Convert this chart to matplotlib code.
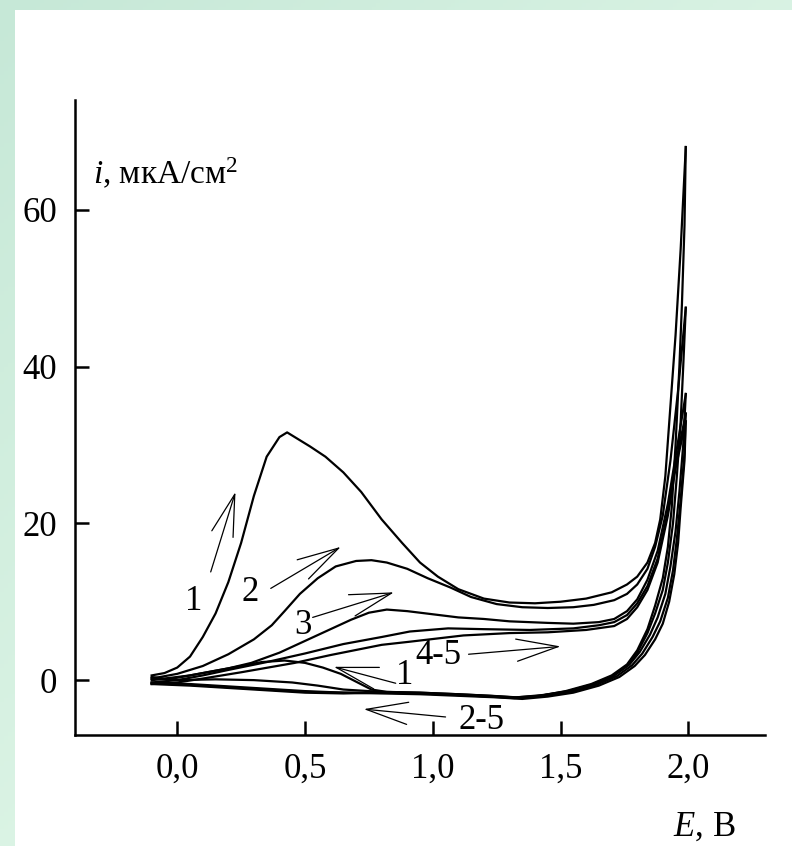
import numpy as np
import matplotlib
matplotlib.use("Agg")
import matplotlib.pyplot as plt
from matplotlib.patches import Rectangle

plt.rcParams['font.family'] = ['Liberation Serif', 'DejaVu Serif']
plt.rcParams['mathtext.fontset'] = 'custom'
plt.rcParams['mathtext.rm'] = 'Liberation Serif'
plt.rcParams['mathtext.it'] = 'Liberation Serif:italic'

# cycle 1
E1_fwd = [-0.10, -0.05, 0.00, 0.05, 0.10, 0.15, 0.20, 0.25, 0.30, 0.35, 0.40, 0.43, 0.47, 0.52,
          0.58, 0.65, 0.72, 0.80, 0.88, 0.95, 1.02, 1.10, 1.20, 1.30, 1.40, 1.50, 1.60, 1.70,
          1.76, 1.80, 1.84, 1.87, 1.89, 1.91, 1.93, 1.95, 1.97, 1.99]
i1_fwd = [0.6, 0.9, 1.6, 3.0, 5.5, 8.5, 12.5, 17.5, 23.5, 28.5, 31.0, 31.6, 30.8, 29.8,
          28.5, 26.5, 24.0, 20.5, 17.5, 15.0, 13.2, 11.6, 10.4, 9.9, 9.8, 10.0, 10.4, 11.2,
          12.2, 13.2, 15.0, 17.5, 20.5, 26.0, 35.0, 44.0, 55.0, 68.0]
E1_rev = [1.99, 1.985, 1.975, 1.965, 1.95, 1.935, 1.92, 1.90, 1.87, 1.84, 1.80, 1.76, 1.70,
          1.62, 1.52, 1.42, 1.32, 1.22, 1.10, 0.95, 0.82, 0.76, 0.70, 0.64, 0.57, 0.50, 0.42,
          0.33, 0.25, 0.15, 0.05, -0.05, -0.10]
i1_rev = [68.0, 58.0, 48.0, 40.0, 30.0, 22.0, 17.0, 13.0, 9.5, 6.5, 3.8, 2.0, 0.6,
          -0.5, -1.4, -2.0, -2.2, -2.0, -1.8, -1.6, -1.5, -1.2, -0.2, 0.8, 1.6, 2.2, 2.5,
          2.3, 1.8, 1.2, 0.6, 0.2, 0.4]

# cycle 2
E2_fwd = [-0.10, -0.05, 0.00, 0.10, 0.20, 0.30, 0.37, 0.42, 0.48, 0.55, 0.62, 0.70, 0.76, 0.82,
          0.90, 0.98, 1.07, 1.15, 1.25, 1.35, 1.45, 1.55, 1.63, 1.71, 1.76, 1.80, 1.84, 1.87,
          1.90, 1.93, 1.96, 1.99]
i2_fwd = [0.2, 0.5, 0.8, 1.8, 3.3, 5.2, 7.0, 8.8, 11.0, 13.0, 14.5, 15.2, 15.3, 15.0,
          14.2, 13.0, 11.8, 10.6, 9.7, 9.3, 9.2, 9.3, 9.6, 10.2, 11.0, 12.2, 14.2, 17.0,
          21.0, 28.0, 37.0, 47.5]
E2_rev = [1.99, 1.98, 1.97, 1.955, 1.94, 1.92, 1.90, 1.87, 1.84, 1.80, 1.76, 1.70, 1.62, 1.52,
          1.42, 1.32, 1.22, 1.10, 0.95, 0.80, 0.65, 0.50, 0.35, 0.20, 0.05, -0.10]
i2_rev = [47.5, 40.0, 33.0, 26.0, 20.0, 15.0, 11.5, 8.5, 6.0, 3.5, 1.8, 0.4, -0.6, -1.5,
          -2.0, -2.3, -2.1, -1.9, -1.7, -1.6, -1.6, -1.4, -1.1, -0.8, -0.5, -0.3]

# cycle 3
E3_fwd = [-0.10, 0.00, 0.10, 0.20, 0.29, 0.40, 0.50, 0.60, 0.68, 0.75, 0.82, 0.90, 1.00, 1.10,
          1.20, 1.30, 1.45, 1.55, 1.65, 1.71, 1.76, 1.80, 1.84, 1.88, 1.92, 1.95, 1.99]
i3_fwd = [0.0, 0.3, 0.9, 1.5, 2.2, 3.5, 5.0, 6.5, 7.7, 8.6, 9.0, 8.8, 8.4, 8.0,
          7.8, 7.5, 7.3, 7.2, 7.4, 7.8, 8.8, 10.3, 12.8, 16.5, 22.5, 28.5, 36.5]
E3_rev = [1.99, 1.98, 1.965, 1.95, 1.93, 1.91, 1.88, 1.85, 1.81, 1.77, 1.71, 1.63, 1.53, 1.43,
          1.33, 1.23, 1.10, 0.95, 0.80, 0.65, 0.55, 0.45, 0.30, 0.15, 0.00, -0.10]
i3_rev = [36.5, 30.0, 24.0, 19.0, 14.5, 11.0, 8.0, 5.8, 3.6, 2.0, 0.6, -0.5, -1.4, -1.9,
          -2.2, -2.0, -1.8, -1.6, -1.5, -1.2, -0.7, -0.3, 0.0, 0.1, 0.0, 0.2]

# cycle 4
E4_fwd = [-0.10, 0.00, 0.10, 0.20, 0.35, 0.50, 0.65, 0.80, 0.91, 1.06, 1.20, 1.38, 1.55, 1.65,
          1.71, 1.76, 1.80, 1.84, 1.88, 1.92, 1.95, 1.99]
i4_fwd = [-0.3, 0.0, 0.6, 1.3, 2.3, 3.4, 4.6, 5.5, 6.2, 6.6, 6.5, 6.4, 6.6, 7.0,
          7.4, 8.3, 9.8, 12.0, 15.5, 21.5, 27.5, 34.0]
E4_rev = [1.99, 1.985, 1.97, 1.955, 1.94, 1.92, 1.89, 1.86, 1.82, 1.78, 1.72, 1.64, 1.54, 1.44,
          1.34, 1.24, 1.10, 0.95, 0.80, 0.65, 0.50, 0.35, 0.20, 0.05, -0.10]
i4_rev = [34.0, 29.0, 23.0, 18.0, 14.0, 10.5, 7.5, 5.5, 3.4, 1.9, 0.5, -0.6, -1.5, -2.0,
          -2.3, -2.1, -1.9, -1.7, -1.6, -1.7, -1.6, -1.3, -1.0, -0.7, -0.5]

# cycle 5
E5_fwd = [-0.10, 0.00, 0.10, 0.25, 0.46, 0.60, 0.80, 0.91, 1.12, 1.30, 1.45, 1.60, 1.71, 1.76,
          1.80, 1.84, 1.88, 1.92, 1.95, 1.99]
i5_fwd = [-0.5, -0.3, 0.2, 1.0, 2.2, 3.2, 4.5, 4.9, 5.7, 6.0, 6.1, 6.4, 6.9, 7.8,
          9.3, 11.5, 15.0, 21.0, 27.0, 33.0]
E5_rev = [1.99, 1.985, 1.97, 1.96, 1.945, 1.925, 1.90, 1.87, 1.83, 1.79, 1.73, 1.65, 1.55, 1.45,
          1.35, 1.25, 1.10, 0.95, 0.80, 0.65, 0.50, 0.35, 0.20, 0.05, -0.10]
i5_rev = [33.0, 28.0, 22.0, 17.5, 13.5, 10.0, 7.2, 5.2, 3.2, 1.8, 0.4, -0.7, -1.6, -2.1,
          -2.4, -2.2, -2.0, -1.8, -1.7, -1.6, -1.5, -1.2, -0.9, -0.6, -0.4]

# arrow labels: text, label position, arrow tail, arrow tip
arrow_texts = ["1", "2", "3", "4-5", "1", "2-5"]
label_pos = [(0.065, 10.0), (0.285, 11.2), (0.49, 7.0), (1.02, 3.2), (0.89, 0.6), (1.19, -5.1)]
arrow_tail = [(0.131, 13.8), (0.366, 11.7), (0.53, 8.0), (1.14, 3.3), (0.855, -0.4), (1.05, -4.7)]
arrow_tip = [(0.228, 24.0), (0.64, 17.0), (0.848, 11.2), (1.50, 4.3), (0.613, 1.7), (0.73, -3.7)]

xticks = [0.0, 0.5, 1.0, 1.5, 2.0]
xtick_labels = ["0,0", "0,5", "1,0", "1,5", "2,0"]
yticks = [0, 20, 40, 60]

cycles = [(E1_fwd, i1_fwd, E1_rev, i1_rev),
          (E2_fwd, i2_fwd, E2_rev, i2_rev),
          (E3_fwd, i3_fwd, E3_rev, i3_rev),
          (E4_fwd, i4_fwd, E4_rev, i4_rev),
          (E5_fwd, i5_fwd, E5_rev, i5_rev)]

W, H = 792, 846
fig = plt.figure(figsize=(W / 100, H / 100), dpi=100)
fig.patch.set_facecolor("white")

# slide background: green gradient frame on the left and top
bg = fig.add_axes([0, 0, 1, 1], zorder=-1)
bg.axis("off")
gx, gy = np.meshgrid(np.linspace(0, 1, 200), np.linspace(0, 1, 200))
t = np.clip(0.55 * gx + 0.6 * gy, 0, 1)[..., None]
dark = np.array([198, 232, 215]) / 255
light = np.array([232, 251, 237]) / 255
bg.imshow(dark * (1 - t) + light * t, extent=[0, 1, 0, 1], origin="upper", aspect="auto")
bg.add_patch(Rectangle((15 / W, 0), 1, 1 - 10 / H, transform=bg.transAxes,
                       facecolor="white", edgecolor="none"))
bg.set_xlim(0, 1)
bg.set_ylim(0, 1)

ax = fig.add_axes([75 / W, 1 - 735 / H, 690 / W, 635 / H])
ax.set_facecolor("none")

for Ef, jf, Er, jr in cycles:
    ax.plot(Ef, jf, color="black", lw=1.6)
    ax.plot(Er, jr, color="black", lw=1.6)

for txt, lp, tail, tip in zip(arrow_texts, label_pos, arrow_tail, arrow_tip):
    ax.annotate("", xy=tip, xytext=tail,
                arrowprops=dict(arrowstyle="->,head_length=3.0,head_width=0.8",
                                lw=0.9, color="black", shrinkA=0, shrinkB=0,
                                mutation_scale=10))
    ax.text(lp[0], lp[1], txt, fontsize=25, ha="center", va="center")

ax.set_xlim(-0.4, 2.3)
ax.set_ylim(-7, 74)
ax.set_xticks(xticks)
ax.set_xticklabels(xtick_labels)
ax.set_yticks(yticks)
for s in ["top", "right"]:
    ax.spines[s].set_visible(False)
for s in ["left", "bottom"]:
    ax.spines[s].set_linewidth(1.8)
ax.tick_params(direction="in", length=10, width=1.8, labelsize=25)
ax.tick_params(axis="x", pad=13)
ax.tick_params(axis="y", pad=13)

ax.text(0.026, 0.867, "$i$, мкА/см$^2$", transform=ax.transAxes, fontsize=24,
        ha="left", va="baseline")
ax.text(0.957, -0.145, "$E$, В", transform=ax.transAxes, fontsize=25,
        ha="right", va="center")

fig.savefig("out.png", dpi=100)
